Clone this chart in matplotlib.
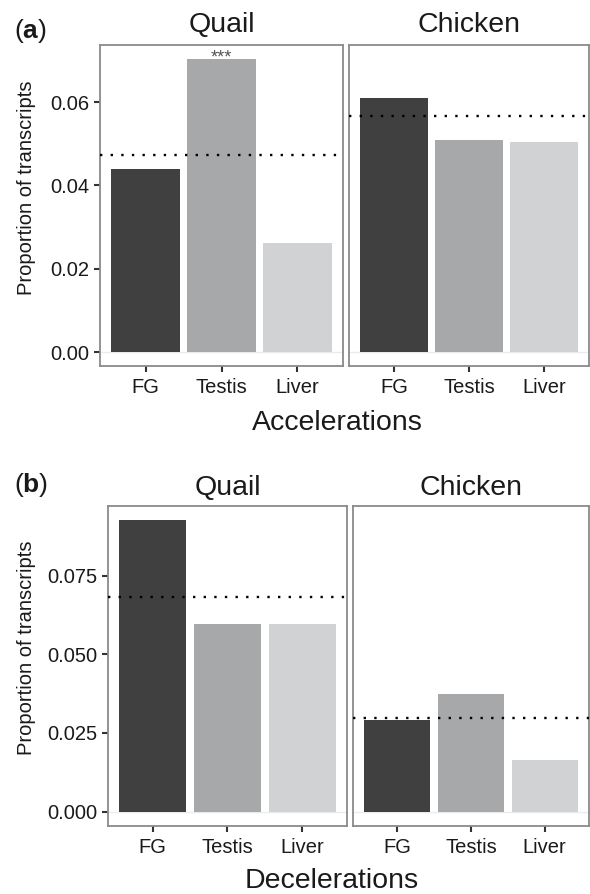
import matplotlib
matplotlib.use("Agg")
import matplotlib.pyplot as plt

plt.rcParams['font.family'] = ['Liberation Sans', 'DejaVu Sans']
plt.rcParams['mathtext.fontset'] = 'custom'
plt.rcParams['mathtext.rm'] = 'Liberation Sans'
plt.rcParams['mathtext.bf'] = 'Liberation Sans:bold'

# values
tissues = ["FG", "Testis", "Liver"]
bar_colors = ["#404040", "#a7a8aa", "#d1d2d4"]

acc_quail = [0.0439, 0.0703, 0.0262]
acc_chicken = [0.0610, 0.0509, 0.0504]
acc_expected = [0.0474, 0.0566]   # dotted line, quail / chicken

dec_quail = [0.0925, 0.0596, 0.0596]
dec_chicken = [0.0291, 0.0374, 0.0165]
dec_expected = [0.0681, 0.0296]

acc_ticks = [0.00, 0.02, 0.04, 0.06]
acc_ticklabels = ["0.00", "0.02", "0.04", "0.06"]
dec_ticks = [0.000, 0.025, 0.050, 0.075]
dec_ticklabels = ["0.000", "0.025", "0.050", "0.075"]

W, H = 590, 894
TXT = "#1a1a1a"
fig = plt.figure(figsize=(W / 100, H / 100), dpi=100)


def px_axes(x0, y0, x1, y1):
    return fig.add_axes([x0 / W, 1 - y1 / H, (x1 - x0) / W, (y1 - y0) / H])


def draw_panel(ax, values, expected, title, ylim, ticks=None, ticklabels=None, tpad=9):
    x = range(1, len(tissues) + 1)
    ax.bar(x, values, width=0.9, color=bar_colors, zorder=2)
    ax.axhline(0, color="#ebebeb", lw=1.0, zorder=1)
    ax.axhline(expected, color="black", lw=1.7, linestyle=(0, (1, 3.5)), zorder=3)
    ax.set_xlim(0.4, 3.6)
    ax.set_ylim(*ylim)
    ax.set_xticks(list(x))
    ax.set_xticklabels(tissues, fontsize=14.5, color=TXT)
    ax.tick_params(axis="x", length=4, width=1.5, color="#333333", pad=4.5)
    if ticks is not None:
        ax.set_yticks(ticks)
        ax.set_yticklabels(ticklabels, fontsize=14.5, color=TXT)
        ax.tick_params(axis="y", length=4, width=1.5, color="#333333", pad=4)
    else:
        ax.set_yticks([])
    for s in ax.spines.values():
        s.set_color("#8a8a8c")
        s.set_linewidth(1.3)
    ax.set_title(title, fontsize=20.5, pad=tpad, color=TXT)


# panel (a) accelerations
aq = px_axes(100, 45, 343, 366)
ac = px_axes(349, 45, 589, 366)
draw_panel(aq, acc_quail, acc_expected[0], "Quail", (-0.00336, 0.0737),
           acc_ticks, acc_ticklabels, tpad=9.5)
draw_panel(ac, acc_chicken, acc_expected[1], "Chicken", (-0.00336, 0.0737), tpad=9.5)
aq.annotate("***", xy=(2, acc_quail[1]), xytext=(0, -2.5), textcoords="offset points",
            ha="center", va="baseline", fontsize=13, color="#555555")
aq.set_ylabel("Proportion of transcripts", fontsize=14.5, color=TXT)
aq.yaxis.set_label_coords((36 - 100) / 243, (366 - 188) / 321)
fig.text(337 / W, 1 - 423 / H, "Accelerations", ha="center", va="center",
         fontsize=20.5, color=TXT)
fig.text(14 / W, 1 - 31 / H, r"($\mathbf{a}$)", ha="left", va="center",
         fontsize=19, color=TXT)

# panel (b) decelerations
dq = px_axes(108, 506, 347, 826)
dc = px_axes(353, 506, 589, 826)
draw_panel(dq, dec_quail, dec_expected[0], "Quail", (-0.0046, 0.0971),
           dec_ticks, dec_ticklabels, tpad=8)
draw_panel(dc, dec_chicken, dec_expected[1], "Chicken", (-0.0046, 0.0971), tpad=8)
dq.set_ylabel("Proportion of transcripts", fontsize=14.5, color=TXT)
dq.yaxis.set_label_coords((36 - 108) / 239, (826 - 648) / 320)
fig.text(332 / W, 1 - 881 / H, "Decelerations", ha="center", va="center",
         fontsize=20.5, color=TXT)
fig.text(14 / W, 1 - 485 / H, r"($\mathbf{b}$)", ha="left", va="center",
         fontsize=19, color=TXT)

fig.savefig("out.png", dpi=100)
